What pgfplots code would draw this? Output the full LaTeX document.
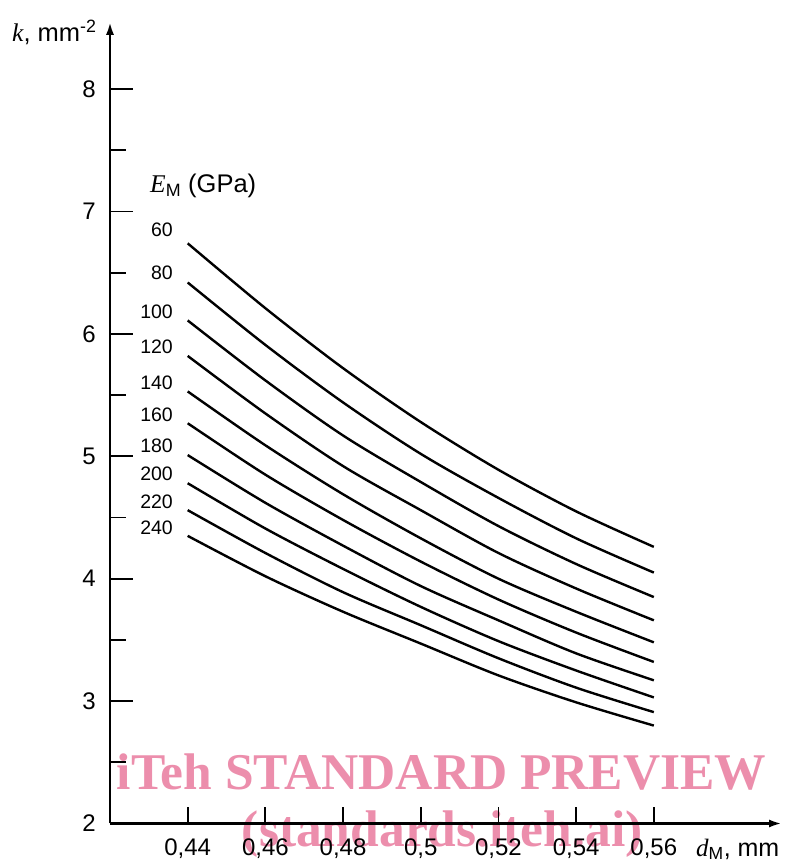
\documentclass[border=0pt]{standalone}
\usepackage{pgfplots}
\usepackage{pgfplotstable}
\pgfplotsset{compat=1.18}
\usepackage{fontspec}
\setmainfont{Liberation Sans}
\newfontfamily\timesfont{Liberation Serif}
\usetikzlibrary{arrows.meta}
\definecolor{wm}{RGB}{236,142,172}

\pgfplotstableread{
d     e60  e80  e100 e120 e140 e160 e180 e200 e220 e240
0.44  6.74 6.42 6.11 5.82 5.53 5.27 5.01 4.78 4.56 4.35
0.46  6.21 5.91 5.62 5.35 5.09 4.85 4.62 4.41 4.21 4.02
0.48  5.72 5.44 5.17 4.92 4.69 4.48 4.27 4.08 3.89 3.73
0.50  5.28 5.02 4.79 4.56 4.33 4.14 3.94 3.77 3.62 3.47
0.52  4.89 4.66 4.43 4.21 4.00 3.83 3.66 3.49 3.35 3.21
0.54  4.55 4.33 4.12 3.92 3.73 3.56 3.39 3.25 3.11 2.99
0.56  4.26 4.05 3.85 3.66 3.48 3.32 3.17 3.03 2.91 2.80
}\datatable

\begin{document}
\begin{tikzpicture}[x=1pt,y=1pt]
\useasboundingbox (0,0) rectangle (787,864);
% watermark
\node[anchor=base west, font=\fontsize{51.5}{51.5}\selectfont\timesfont\bfseries, text=wm, inner sep=0] at (116.7,74.7) {iTeh STANDARD PREVIEW};
\node[anchor=base west, font=\fontsize{51.5}{51.5}\selectfont\timesfont\bfseries, text=wm, inner sep=0] at (241.7,17) {(standards.iteh.ai)};
\begin{axis}[
  scale only axis, width=672pt, height=801.7pt,
  at={(110pt,40.5pt)}, anchor=south west,
  xmin=0.42, xmax=0.593, ymin=2, ymax=8.55,
  axis lines=left,
  axis line style={line width=2.8pt, -{Latex[length=13pt,width=8pt]}},
  tick align=inside,
  xtick={0.44,0.46,0.48,0.5,0.52,0.54,0.56},
  ytick={2,3,4,5,6,7,8},
  minor ytick={2.5,3.5,4.5,5.5,6.5,7.5},
  major tick length=16pt, minor tick length=16pt,
  tick style={line width=1.8pt, black},
  extra y ticks={3,4,5,6,7,8},
  extra y tick labels={},
  extra y tick style={major tick length=23pt},
  /pgf/number format/assume math mode=true,
  /pgf/number format/use comma,
  tick label style={font=\fontsize{24}{24}\selectfont},
  yticklabel style={inner sep=0pt, xshift=-14pt},
  xticklabel style={inner sep=0pt, yshift=-15pt},
  clip=false,
]
\addplot[line width=2.4pt, smooth] table[x=d, y=e60] {\datatable};
\addplot[line width=2.4pt, smooth] table[x=d, y=e80] {\datatable};
\addplot[line width=2.4pt, smooth] table[x=d, y=e100] {\datatable};
\addplot[line width=2.4pt, smooth] table[x=d, y=e120] {\datatable};
\addplot[line width=2.4pt, smooth] table[x=d, y=e140] {\datatable};
\addplot[line width=2.4pt, smooth] table[x=d, y=e160] {\datatable};
\addplot[line width=2.4pt, smooth] table[x=d, y=e180] {\datatable};
\addplot[line width=2.4pt, smooth] table[x=d, y=e200] {\datatable};
\addplot[line width=2.4pt, smooth] table[x=d, y=e220] {\datatable};
\addplot[line width=2.4pt, smooth] table[x=d, y=e240] {\datatable};
\end{axis}
% axis labels
\node[anchor=base west, inner sep=0, font=\fontsize{25.5}{25.5}\selectfont] at (12,822) {{\timesfont\itshape k}, mm\textsuperscript{-2}};
\node[anchor=base west, inner sep=0, font=\fontsize{25}{25}\selectfont] at (696,8) {{\timesfont\itshape d}\textsubscript{M}, mm};
\node[anchor=base west, inner sep=0, font=\fontsize{25.5}{25.5}\selectfont] at (150,671) {{\timesfont\itshape E}\textsubscript{M} (GPa)};
% curve labels
\foreach \lab/\yy in {60/627.3, 80/584.7, 100/545.7, 120/510.7, 140/474.7, 160/442.7, 180/411.7, 200/383, 220/355.7, 240/329.7}{
  \node[anchor=base east, inner sep=0, font=\fontsize{19.5}{19.5}\selectfont] at (173,\yy) {\lab};
}
\end{tikzpicture}
\end{document}
